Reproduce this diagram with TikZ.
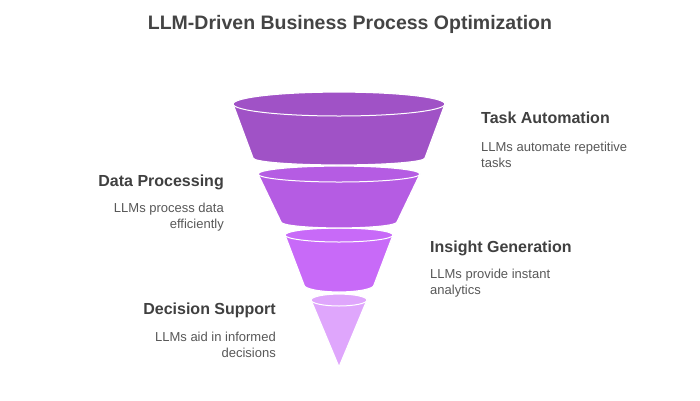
\documentclass[tikz,border=0pt]{standalone}
\usepackage{fontspec}
\setmainfont{Liberation Sans}
\definecolor{segA}{RGB}{160,82,198}
\definecolor{segB}{RGB}{181,92,227}
\definecolor{segC}{RGB}{200,106,248}
\definecolor{segD}{RGB}{223,166,252}
\definecolor{titlegray}{RGB}{68,68,68}
\definecolor{headgray}{RGB}{64,64,64}
\definecolor{descgray}{RGB}{88,88,88}
\begin{document}
\begin{tikzpicture}[x=1pt,y=1pt,
  head/.style={font=\fontsize{16}{19}\selectfont\bfseries, text=headgray, inner sep=0pt},
  desc/.style={font=\fontsize{13}{16}\selectfont, text=descgray, inner sep=0pt},
  seg/.style={draw=white, line width=1.2pt},
  rim/.style={draw=white, line width=1pt}]
\useasboundingbox (0,0) rectangle (700,-400);
\fill[white] (0,0) rectangle (700,-400);

\node[font=\fontsize{19.5}{22}\selectfont\bfseries, text=titlegray, inner sep=0pt, anchor=base] (title) at (350,-29) {LLM-Driven Business Process Optimization};

% funnel, lowest part first
\filldraw[seg, fill=segD] (311,-300) arc[start angle=180, end angle=0, x radius=28, y radius=6] -- (339,-367) -- cycle;
\draw[rim] (311,-300) arc[start angle=180, end angle=360, x radius=28, y radius=6];

\filldraw[seg, fill=segC] (285,-235) arc[start angle=180, end angle=0, x radius=54, y radius=7] -- (374,-285) arc[start angle=0, end angle=-180, x radius=35, y radius=7] -- cycle;
\draw[rim] (285,-235) arc[start angle=180, end angle=360, x radius=54, y radius=7];

\filldraw[seg, fill=segB] (258,-174) arc[start angle=180, end angle=0, x radius=81, y radius=8] -- (397,-222) arc[start angle=0, end angle=-180, x radius=58, y radius=6] -- cycle;
\draw[rim] (258,-174) arc[start angle=180, end angle=360, x radius=81, y radius=8];

\filldraw[seg, fill=segA] (233,-104) arc[start angle=180, end angle=0, x radius=106, y radius=12] -- (425,-158) arc[start angle=0, end angle=-180, x radius=86, y radius=7] -- cycle;
\draw[rim] (233,-104) arc[start angle=180, end angle=360, x radius=106, y radius=12];

% labels (base = last line)
\node[head, anchor=base west] (task) at (481,-123) {Task Automation};
\node[desc, anchor=base west, align=left] (taskd) at (481,-167) {LLMs automate repetitive\\tasks};

\node[head, anchor=base east] (data) at (224,-186) {Data Processing};
\node[desc, anchor=base east, align=right] (datad) at (224,-228) {LLMs process data\\efficiently};

\node[head, anchor=base west] (insight) at (430,-252) {Insight Generation};
\node[desc, anchor=base west, align=left] (insightd) at (430,-294) {LLMs provide instant\\analytics};

\node[head, anchor=base east] (decision) at (276,-314) {Decision Support};
\node[desc, anchor=base east, align=right] (decisiond) at (276,-357) {LLMs aid in informed\\decisions};
\end{tikzpicture}
\end{document}
